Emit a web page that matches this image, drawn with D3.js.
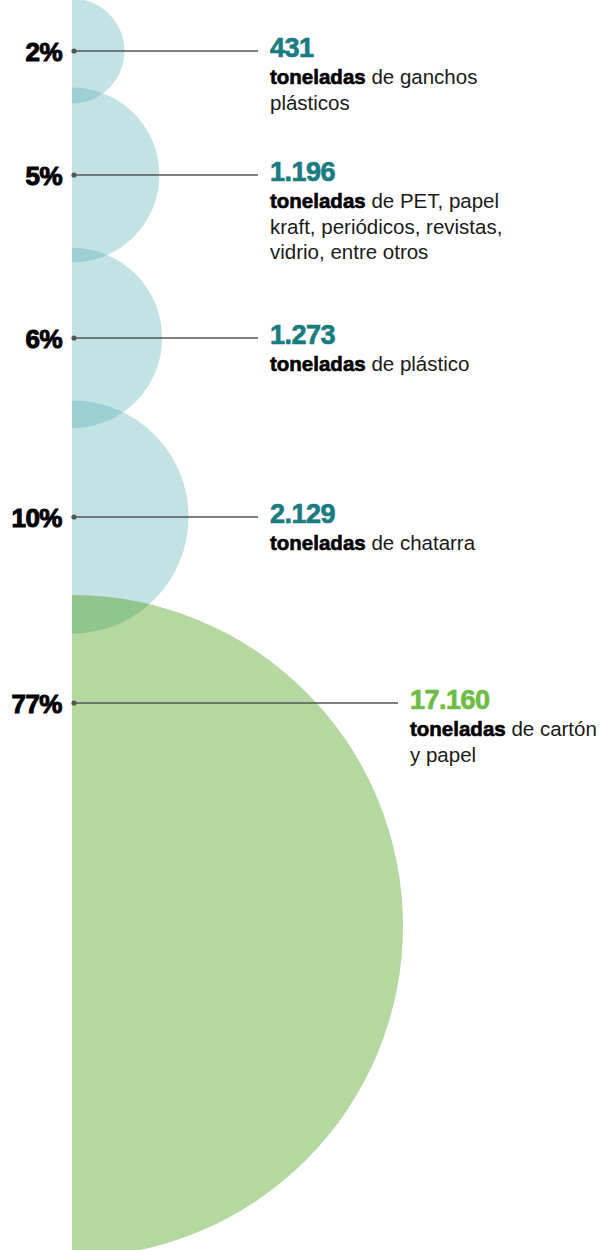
<!DOCTYPE html>
<html>
<head>
<meta charset="utf-8">
<script src="https://cdn.jsdelivr.net/npm/d3@7"></script>
<style>
  html, body { margin: 0; padding: 0; background: #fff; }
  svg { display: block; }
</style>
</head>
<body>
<div id="chart"></div>
<script>
// ---- data ----
const categories = ["ganchos plásticos", "PET, papel kraft, periódicos, revistas, vidrio", "plástico", "chatarra", "cartón y papel"];
const tons = [431, 1196, 1273, 2129, 17160];
const percents = [2, 5, 6, 10, 77];
const valueLabels = ["431", "1.196", "1.273", "2.129", "17.160"];
const descFirst = ["de ganchos", "de PET, papel", "de plástico", "de chatarra", "de cartón"];
const descMore = [["plásticos"], ["kraft, periódicos, revistas,", "vidrio, entre otros"], [], [], ["y papel"]];
const groups = ["teal", "teal", "teal", "teal", "green"];

// ---- layout ----
const W = 604, H = 1250;
const cx = 72;
const circleY = [51, 175, 338, 517, 926];
const labelY = [51, 175, 338, 517, 703];

const fillColor = d3.scaleOrdinal().domain(["teal", "green"]).range(["rgb(92,176,181)", "rgb(64,152,10)"]);
const fillOpacity = d3.scaleOrdinal().domain(["teal", "green"]).range([0.37, 0.39]);
const textColor = d3.scaleOrdinal().domain(["teal", "green"]).range(["#1a7b81", "#6dbd45"]);

const r = d3.scaleSqrt().domain([0, d3.max(tons)]).range([0, 331]);

const svg = d3.select("#chart").append("svg").attr("width", W).attr("height", H);

svg.append("defs").append("clipPath").attr("id", "half")
  .append("rect").attr("x", cx).attr("y", 0).attr("width", W - cx).attr("height", H);

const idx = d3.range(tons.length);

svg.append("g").attr("clip-path", "url(#half)")
  .selectAll("circle").data(idx).join("circle")
  .attr("cx", cx)
  .attr("cy", i => circleY[i])
  .attr("r", i => r(tons[i]))
  .attr("fill", i => fillColor(groups[i]))
  .attr("fill-opacity", i => fillOpacity(groups[i]));

const font = "'Liberation Sans', Arial, Helvetica, sans-serif";

const lab = svg.append("g").selectAll("g").data(idx).join("g")
  .attr("transform", i => `translate(0,${labelY[i]})`);

const lineEnd = i => Math.max(258, cx + r(tons[i]) - 5);

lab.append("line")
  .attr("x1", cx + 2).attr("x2", lineEnd)
  .attr("y1", 0).attr("y2", 0)
  .attr("stroke", "#555").attr("stroke-width", 1.4);

lab.append("circle")
  .attr("cx", cx + 2).attr("cy", 0).attr("r", 2.6).attr("fill", "#555");

lab.append("text")
  .attr("x", 62).attr("y", 9.5)
  .attr("text-anchor", "end")
  .attr("font-family", font)
  .attr("font-weight", "bold")
  .attr("font-size", 26)
  .attr("fill", "#000")
  .attr("stroke", "#000").attr("stroke-width", 1)
  .style("letter-spacing", "-0.5px")
  .text(i => percents[i] + "%");

lab.append("text")
  .attr("x", i => lineEnd(i) + 12).attr("y", 6)
  .attr("font-family", font)
  .attr("font-weight", "bold")
  .attr("font-size", 27)
  .attr("fill", i => textColor(groups[i]))
  .attr("stroke", i => textColor(groups[i])).attr("stroke-width", 0.7)
  .style("letter-spacing", "-0.5px")
  .text(i => valueLabels[i]);

const desc = lab.append("text")
  .attr("font-family", font)
  .attr("font-size", 20.5)
  .attr("fill", "#1a1a1a");

desc.each(function(i) {
  const t = d3.select(this);
  const x = lineEnd(i) + 12;
  const l1 = t.append("tspan").attr("x", x).attr("y", 33);
  l1.append("tspan").attr("font-weight", "bold").attr("fill", "#000")
    .attr("stroke", "#000").attr("stroke-width", 0.6).text("toneladas");
  l1.append("tspan").text(" " + descFirst[i]);
  descMore[i].forEach((s, k) => {
    t.append("tspan").attr("x", x).attr("y", 33 + 25.5 * (k + 1)).text(s);
  });
});
</script>
</body>
</html>
